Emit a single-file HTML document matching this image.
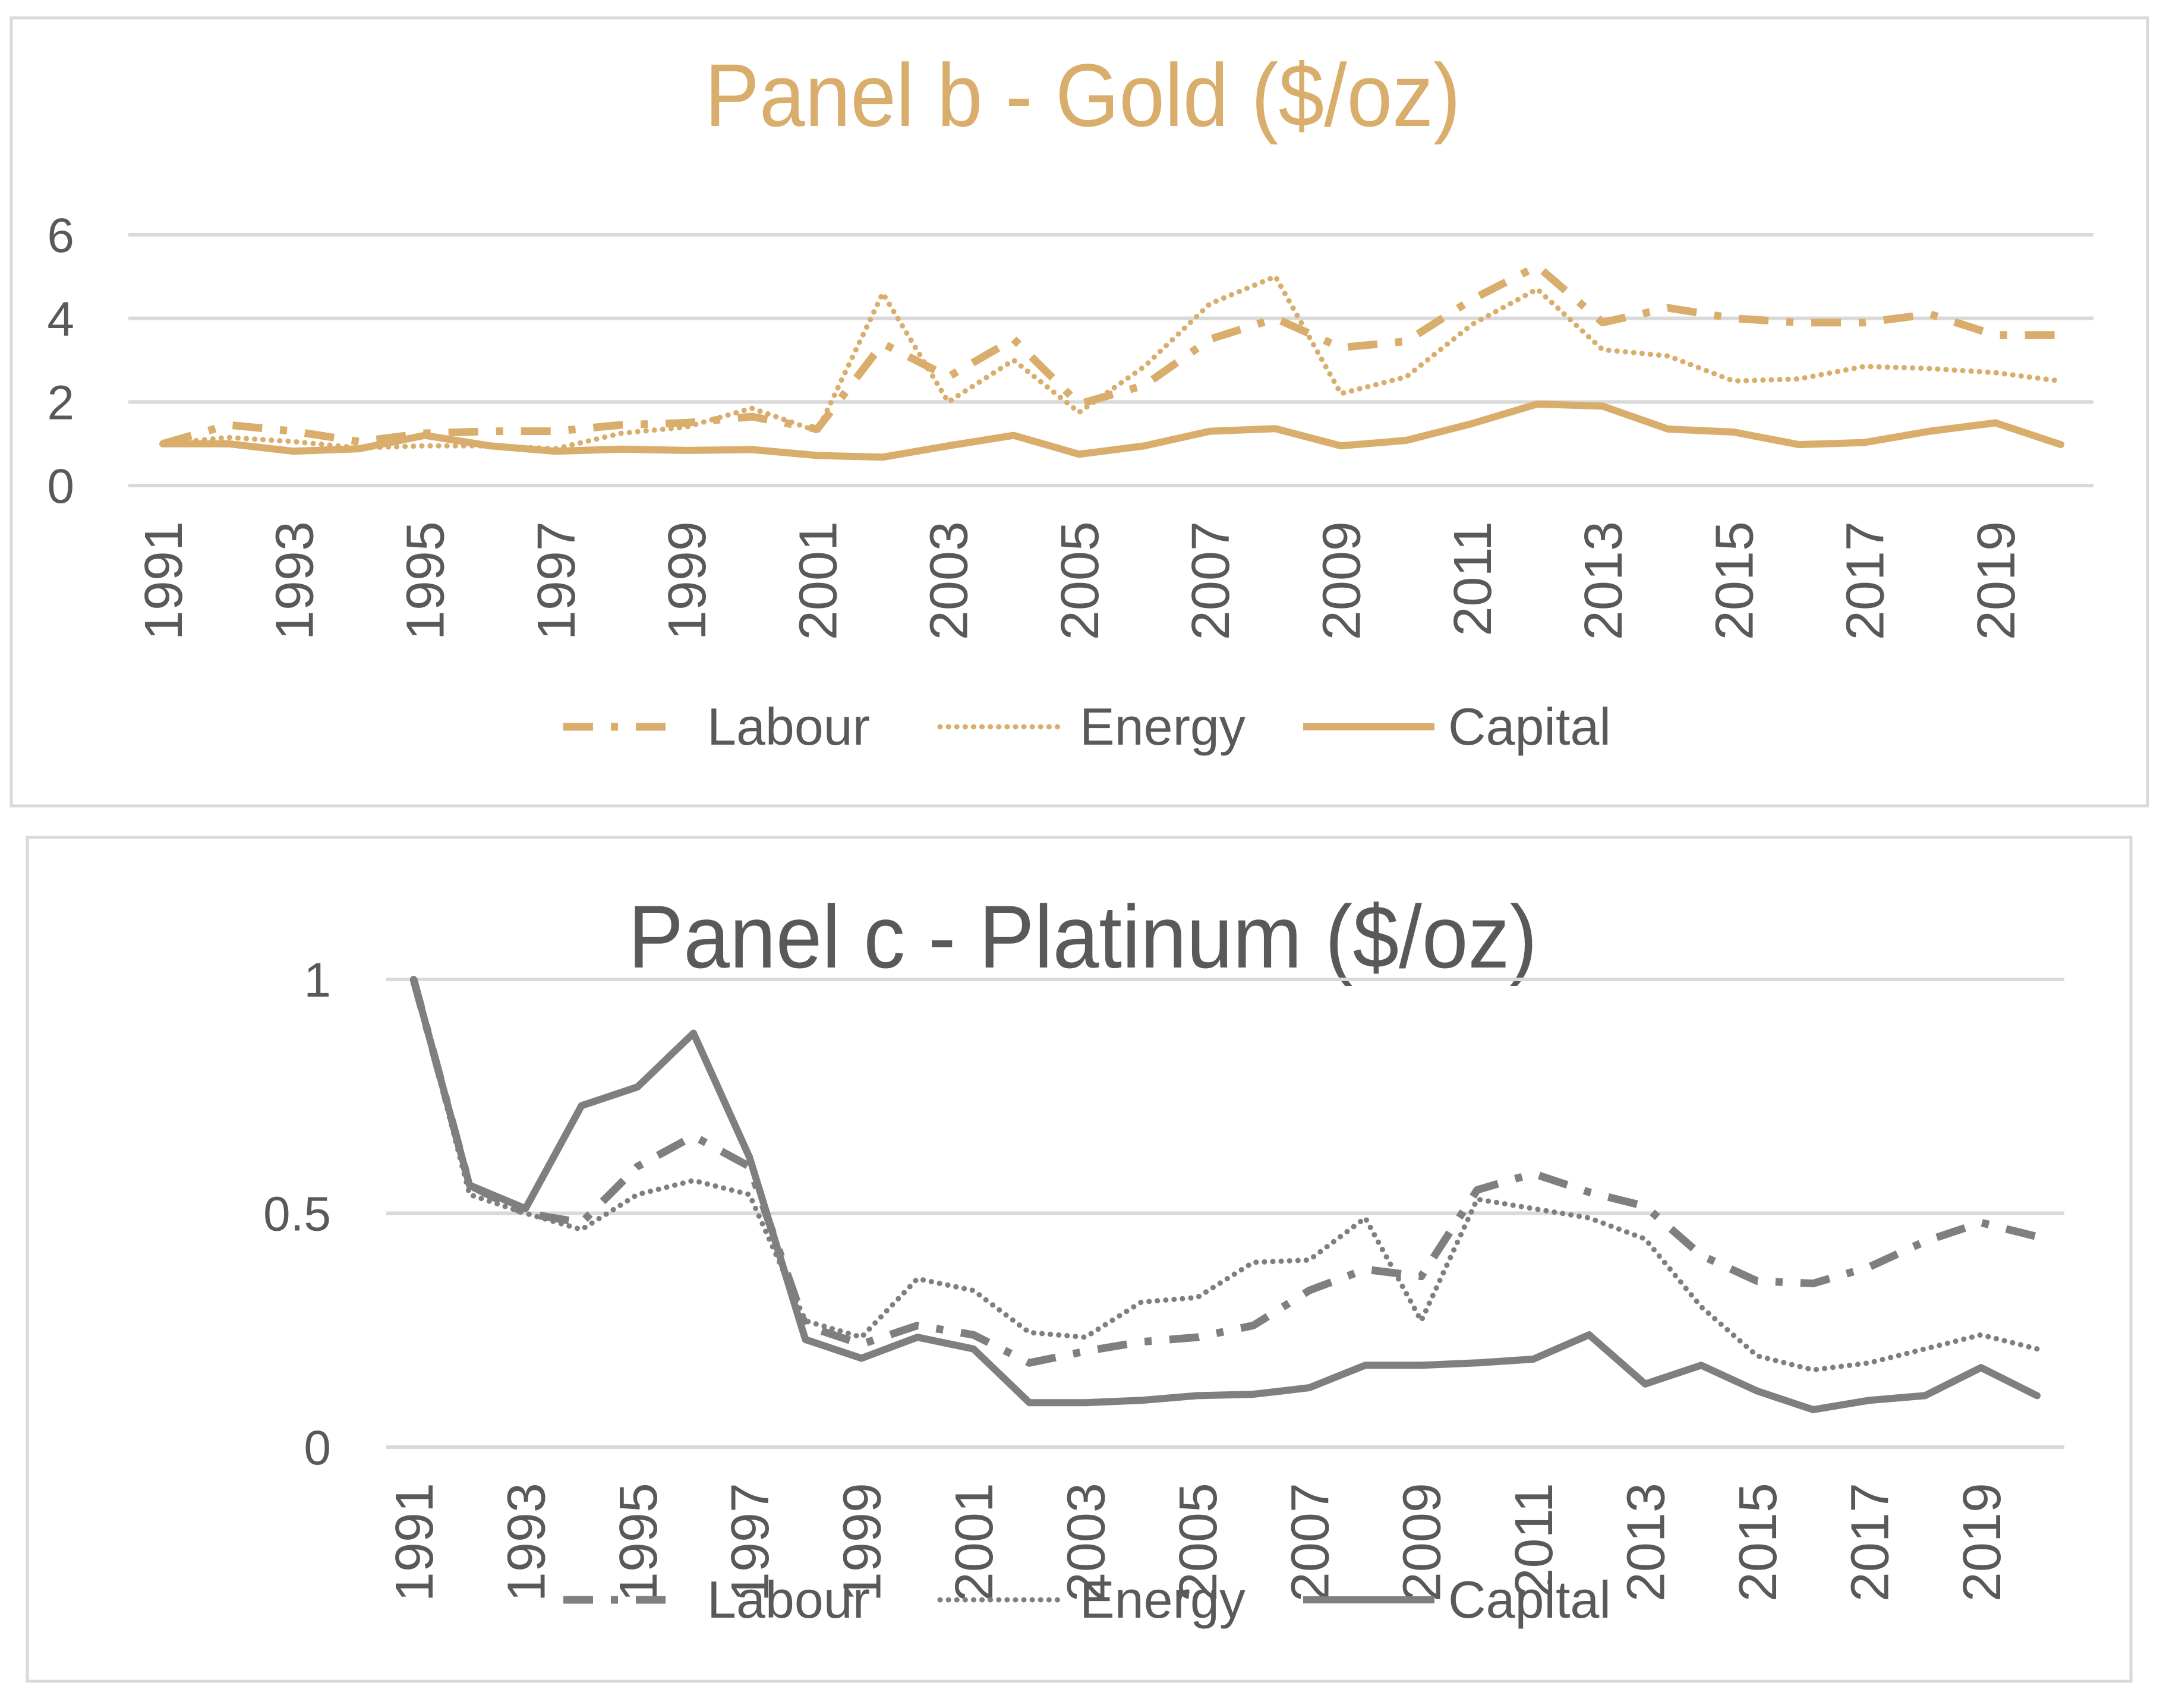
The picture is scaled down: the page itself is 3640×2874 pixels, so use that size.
<!DOCTYPE html>
<html><head><meta charset="utf-8"><style>
html,body{margin:0;padding:0;background:#fff;}
svg{display:block;font-family:"Liberation Sans",sans-serif;}
</style></head><body>
<svg id="chart" width="3640" height="2874" viewBox="0 0 3640 2874" xmlns="http://www.w3.org/2000/svg">
<rect x="0" y="0" width="3640" height="2874" fill="#fff"/>
<rect x="19" y="30" width="3595" height="1326" fill="none" stroke="#d9d9d9" stroke-width="5"/>
<rect x="46" y="1409" width="3540" height="1420" fill="none" stroke="#d9d9d9" stroke-width="5"/>
<text x="1822" y="212" text-anchor="middle" font-size="150" fill="#d9ad6b" textLength="1272" lengthAdjust="spacingAndGlyphs">Panel b - Gold ($/oz)</text>
<text x="1822" y="1628" text-anchor="middle" font-size="150" fill="#595959" textLength="1530" lengthAdjust="spacingAndGlyphs">Panel c - Platinum ($/oz)</text>
<g id="gb"></g><g id="gc"></g>
</svg>
<script>
const years=[];for(let y=1991;y<=2020;y++)years.push(y);
const goldLabour=[1.0,1.45,1.3,1.05,1.25,1.3,1.3,1.45,1.5,1.65,1.35,3.4,2.6,3.5,1.95,2.4,3.5,4.0,3.3,3.45,4.45,5.25,3.9,4.25,4.0,3.9,3.9,4.1,3.6,3.6];
const goldEnergy=[1.0,1.15,1.05,0.9,0.95,0.95,0.88,1.25,1.4,1.85,1.3,4.6,2.0,3.0,1.75,2.85,4.35,5.0,2.2,2.6,3.85,4.7,3.25,3.1,2.5,2.55,2.85,2.8,2.7,2.5];
const goldCapital=[1.0,1.0,0.82,0.88,1.2,0.95,0.82,0.87,0.84,0.86,0.72,0.68,0.95,1.2,0.75,0.95,1.3,1.36,0.95,1.08,1.48,1.95,1.9,1.35,1.28,0.98,1.03,1.3,1.5,0.98];
const goldTicks=[0,2,4,6];
const platLabour=[1.0,0.56,0.5,0.48,0.6,0.665,0.6,0.26,0.22,0.26,0.24,0.18,0.205,0.225,0.235,0.26,0.335,0.38,0.365,0.55,0.585,0.545,0.515,0.41,0.355,0.35,0.385,0.44,0.48,0.45];
const platEnergy=[1.0,0.54,0.5,0.465,0.54,0.57,0.54,0.27,0.235,0.36,0.335,0.245,0.235,0.31,0.32,0.395,0.4,0.49,0.27,0.53,0.51,0.49,0.445,0.3,0.195,0.165,0.18,0.21,0.24,0.21];
const platCapital=[1.0,0.56,0.51,0.73,0.77,0.885,0.62,0.23,0.19,0.235,0.21,0.095,0.095,0.1,0.11,0.113,0.127,0.175,0.175,0.18,0.188,0.24,0.135,0.175,0.12,0.08,0.1,0.11,0.17,0.11];
const platTicks=[0,0.5,1];
const NS="http://www.w3.org/2000/svg";
function mk(p,tag,attrs){const e=document.createElementNS(NS,tag);for(const k in attrs)e.setAttribute(k,attrs[k]);p.appendChild(e);return e;}
function panel(g,cfg){
  const xs=i=>cfg.x0+(cfg.x1-cfg.x0)*i/(years.length-1);
  const ys=v=>cfg.yb+(cfg.yt-cfg.yb)*(v-cfg.vmin)/(cfg.vmax-cfg.vmin);
  cfg.ticks.forEach(t=>{
    const l=mk(g,'line',{x1:cfg.gx0,x2:cfg.gx1,y1:ys(t),y2:ys(t),stroke:'#d9d9d9','stroke-width':6});
    
    
    const tx=mk(g,'text',{x:cfg.tickX,y:ys(t)+29,'text-anchor':'end','font-size':82,fill:'#595959'});
    tx.textContent=String(t);
    
    
  });
  years.forEach((y,i)=>{
    if(i%2)return;
    const x=xs(i)+32;
    const tx=mk(g,'text',{x:x,y:cfg.labTop,transform:`rotate(-90 ${x} ${cfg.labTop})`,'text-anchor':'end','font-size':90,fill:'#595959'});
    tx.textContent=String(y);
    
    
  });
  const series=[
    {name:'labour',d:cfg.labour,w:13,dash:'50,30,12,30',cap:'butt'},
    {name:'energy',d:cfg.energy,w:9,dash:'0.1,14',cap:'round'},
    {name:'capital',d:cfg.capital,w:12,dash:'',cap:'round'}];
  series.forEach(s=>{
    const pts=s.d.map((v,i)=>xs(i).toFixed(1)+','+ys(v).toFixed(1)).join(' ');
    const a={points:pts,fill:'none',stroke:cfg.color,'stroke-width':s.w,'stroke-linejoin':'round','stroke-linecap':s.cap};
    if(s.dash)a['stroke-dasharray']=s.dash;
    const pl=mk(g,'polyline',a);
    
    
  });
  const leg=[{n:'Labour',x0:948,x1:1137,tx:1190,w:13,dash:'50,30,12,30',cap:'butt'},
             {n:'Energy',x0:1582,x1:1787,tx:1817,w:9,dash:'0.1,14',cap:'round'},
             {n:'Capital',x0:2193,x1:2414,tx:2437,w:12,dash:'',cap:'butt'}];
  leg.forEach(L=>{
    const a={x1:L.x0,x2:L.x1,y1:cfg.legY,y2:cfg.legY,stroke:cfg.color,'stroke-width':L.w,'stroke-linecap':L.cap};
    if(L.dash)a['stroke-dasharray']=L.dash;
    const ln=mk(g,'line',a);
    
    
    const t=mk(g,'text',{x:L.tx,y:cfg.legY+30,'font-size':88,fill:'#595959'});
    t.textContent=L.n;
    
    
  });
}
panel(document.getElementById('gb'),{x0:274,x1:3468,gx0:216,gx1:3523,yb:817,yt:395,vmin:0,vmax:6,ticks:goldTicks,tickX:125,labTop:877,legY:1223,color:'#d9ad6b',labour:goldLabour,energy:goldEnergy,capital:goldCapital});
panel(document.getElementById('gc'),{x0:696,x1:3428,gx0:650,gx1:3474,yb:2435,yt:1648,vmin:0,vmax:1,ticks:platTicks,tickX:557,labTop:2495,legY:2692,color:'#7f7f7f',labour:platLabour,energy:platEnergy,capital:platCapital});
</script>
</body></html>
